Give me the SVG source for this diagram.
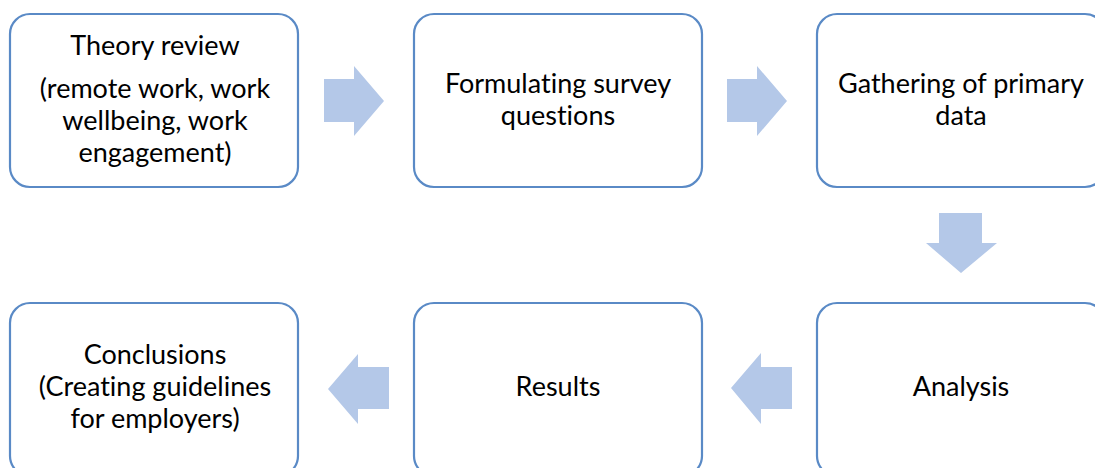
<svg xmlns="http://www.w3.org/2000/svg" width="1095" height="468" viewBox="0 0 1095 468">
<style>
.box{fill:#fff;stroke:#5A8AC6;stroke-width:2.2}
.arr{fill:#B4C8E8}
text{font-family:Lato,"Liberation Sans",sans-serif;font-size:27px;fill:#000;text-anchor:middle;font-variant-ligatures:none}
</style>
<rect width="1095" height="468" fill="#fff"/>
<g id="connectors">
<polygon class="arr" points="324,79 354,79 354,66 384,101 354,136 354,122 324,122"/>
<polygon class="arr" points="727,79 757,79 757,66 787,101 757,136 757,122 727,122"/>
<polygon class="arr" points="939,213 982,213 982,243 997,243 961,273 926,243 939,243"/>
<polygon class="arr" points="792,367 761,367 761,353 731,388 761,424 761,409 792,409"/>
<polygon class="arr" points="389,367 358,367 358,354 328,389 358,424 358,409 389,409"/>
</g>
<g id="n1"><rect class="box" x="10" y="14" width="288" height="173" rx="20"/>
<text x="155" y="55">Theory review</text>
<text x="155" y="98">(remote work, work</text>
<text x="155" y="130">wellbeing, work</text>
<text x="155" y="162">engagement)</text></g>
<g id="n2"><rect class="box" x="414" y="14" width="288" height="173" rx="20"/>
<text x="558" y="93">Formulating survey</text>
<text x="558" y="125">questions</text></g>
<g id="n3"><rect class="box" x="817" y="14" width="288" height="173" rx="20"/>
<text x="961" y="93">Gathering of primary</text>
<text x="961" y="125">data</text></g>
<g id="n4"><rect class="box" x="817" y="303" width="288" height="173" rx="20"/>
<text x="961" y="396">Analysis</text></g>
<g id="n5"><rect class="box" x="414" y="303" width="288" height="173" rx="20"/>
<text x="558" y="396">Results</text></g>
<g id="n6"><rect class="box" x="10" y="303" width="288" height="173" rx="20"/>
<text x="155" y="364">Conclusions</text>
<text x="155" y="396">(Creating guidelines</text>
<text x="155" y="428">for employers)</text></g>
</svg>
